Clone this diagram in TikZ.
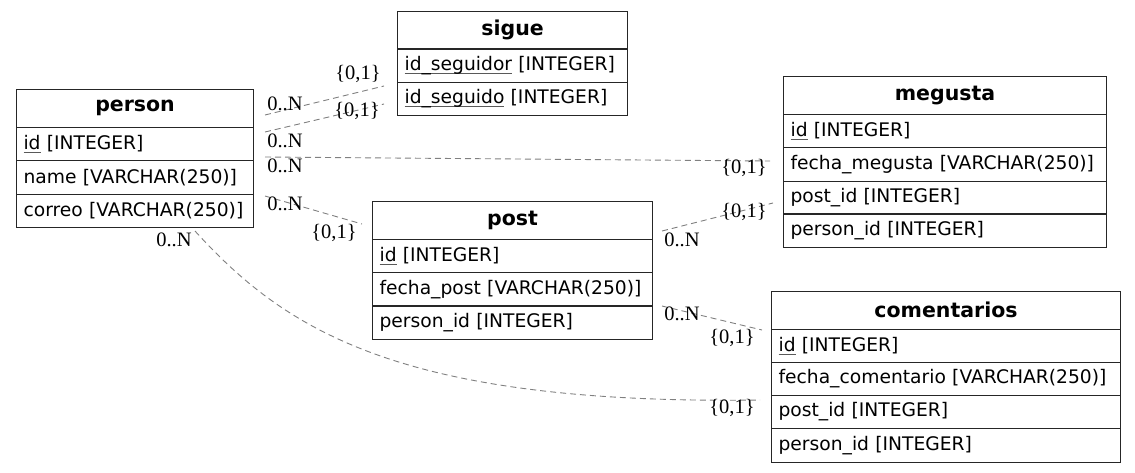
\documentclass[tikz,border=0pt]{standalone}
\usepackage{fontspec}
\newfontfamily\dv{DejaVu Sans}
\newfontfamily\lser{Liberation Serif}
\newcommand\pkey[1]{\setbox0\hbox{#1}\rlap{\color{black!65}\rule[-3.2pt]{\wd0}{0.9pt}}\box0{}}
\tikzset{
  tbl/.style={draw=black!85, line width=1.1pt, inner xsep=7pt, inner ysep=0pt, anchor=north west},
  hdr/.style={tbl, minimum height=37.5pt, align=center, font=\dv\bfseries\fontsize{20.5}{22}\selectfont},
  rowc/.style={tbl, minimum height=33.5pt, align=left, font=\dv\fontsize{18.7}{20}\selectfont},
  card/.style={font=\lser\fontsize{20.5}{22}\selectfont, inner sep=0pt},
  rel/.style={draw=black!50, dash pattern=on 6pt off 4pt, line width=0.9pt}
}
\begin{document}
\begin{tikzpicture}[x=1pt,y=-1pt]
\useasboundingbox (0,0) rectangle (1135,472);
% sigue
\node[hdr, text width=216pt] (sigue) at (397,11) {sigue};
\node[rowc, text width=216pt] (sigue-r1) at (397,48) {\pkey{id\_seguidor} [INTEGER]};
\node[rowc, text width=216pt] (sigue-r2) at (397,81.5) {\pkey{id\_seguido} [INTEGER]};
% person
\node[hdr, text width=223pt] (person) at (16,89) {person};
\node[rowc, text width=223pt] (person-r1) at (16,126.5) {\pkey{id} [INTEGER]};
\node[rowc, text width=223pt] (person-r2) at (16,160) {name [VARCHAR(250)]};
\node[rowc, text width=223pt] (person-r3) at (16,193.5) {correo [VARCHAR(250)]};
% megusta
\node[hdr, text width=309pt] (megusta) at (783,76) {megusta};
\node[rowc, text width=309pt] (megusta-r1) at (783,113.5) {\pkey{id} [INTEGER]};
\node[rowc, text width=309pt] (megusta-r2) at (783,147) {fecha\_megusta [VARCHAR(250)]};
\node[rowc, text width=309pt] (megusta-r3) at (783,180.5) {post\_id [INTEGER]};
\node[rowc, text width=309pt] (megusta-r4) at (783,213) {person\_id [INTEGER]};
% post
\node[hdr, text width=266pt] (post) at (372,201) {post};
\node[rowc, text width=266pt] (post-r1) at (372,238.5) {\pkey{id} [INTEGER]};
\node[rowc, text width=266pt] (post-r2) at (372,272) {fecha\_post [VARCHAR(250)]};
\node[rowc, text width=266pt] (post-r3) at (372,305) {person\_id [INTEGER]};
% comentarios
\node[hdr, text width=335pt] (comentarios) at (771,291) {comentarios};
\node[rowc, text width=335pt] (comentarios-r1) at (771,328.5) {\pkey{id} [INTEGER]};
\node[rowc, text width=335pt] (comentarios-r2) at (771,361.5) {fecha\_comentario [VARCHAR(250)]};
\node[rowc, text width=335pt] (comentarios-r3) at (771,394.5) {post\_id [INTEGER]};
\node[rowc, text width=335pt] (comentarios-r4) at (771,428) {person\_id [INTEGER]};
% connector ends
\coordinate (a1) at (265,115); \coordinate (a2) at (384,86);
\coordinate (b1) at (265,132); \coordinate (b2) at (384,104);
\coordinate (c1) at (265,157); \coordinate (c2) at (770,161);
\coordinate (d1) at (265,196); \coordinate (d2) at (362,224);
\coordinate (e1) at (195,231); \coordinate (e2) at (760,400);
\coordinate (f1) at (662,231); \coordinate (f2) at (773,203);
\coordinate (g1) at (662,306); \coordinate (g2) at (762,330);
\draw[rel] (a1) -- (a2);
\draw[rel] (b1) -- (b2);
\draw[rel] (c1) -- (c2);
\draw[rel] (d1) -- (d2);
\draw[rel] (e1) .. controls (285,330) and (400,405) .. (e2);
\draw[rel] (f1) -- (f2);
\draw[rel] (g1) -- (g2);
% cardinality labels
\node[card] (la1) at (285,104) {0..N};
\node[card] (la2) at (358,74) {\{0,1\}};
\node[card] (lb1) at (285,141) {0..N};
\node[card] (lb2) at (357,111) {\{0,1\}};
\node[card] (lc1) at (285,166) {0..N};
\node[card] (lc2) at (744,168) {\{0,1\}};
\node[card] (ld1) at (285,204) {0..N};
\node[card] (ld2) at (334,233) {\{0,1\}};
\node[card] (le1) at (174,240) {0..N};
\node[card] (le2) at (732,408) {\{0,1\}};
\node[card] (lf1) at (682,240) {0..N};
\node[card] (lf2) at (744,212) {\{0,1\}};
\node[card] (lg1) at (682,314) {0..N};
\node[card] (lg2) at (732,338) {\{0,1\}};
\end{tikzpicture}
\end{document}
